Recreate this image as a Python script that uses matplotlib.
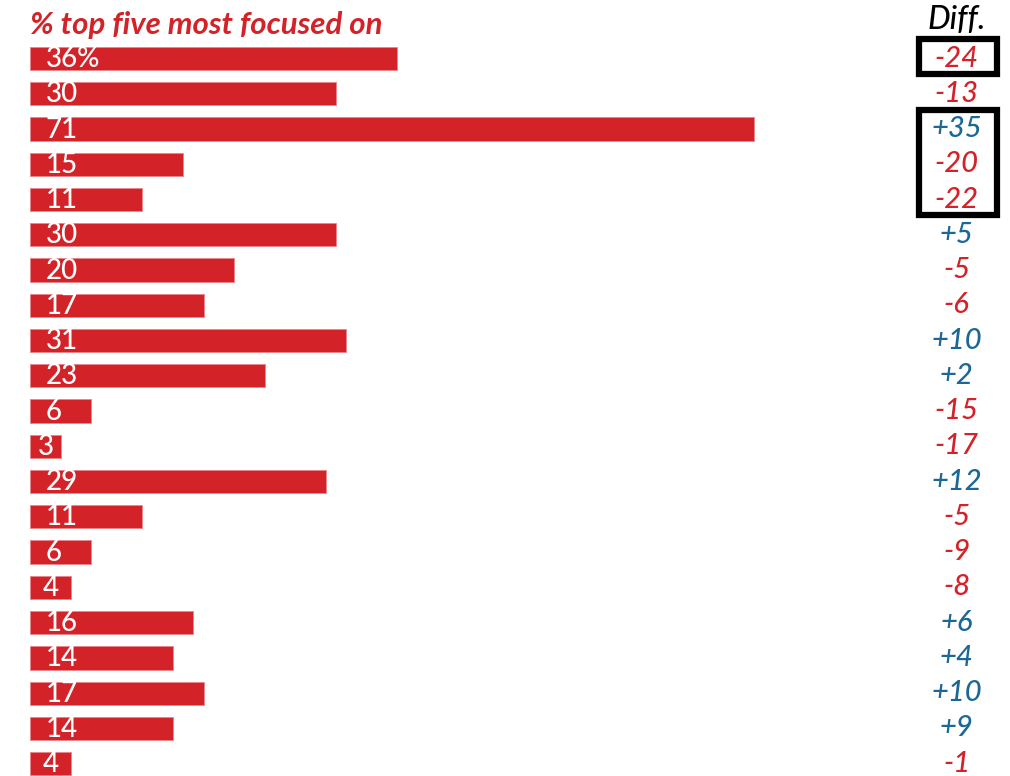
import matplotlib
matplotlib.use("Agg")
import matplotlib.pyplot as plt
from matplotlib.patches import Rectangle

values = [36, 30, 71, 15, 11, 30, 20, 17, 31, 23, 6, 3, 29, 11, 6, 4, 16, 14, 17, 14, 4]
diffs = [-24, -13, 35, -20, -22, 5, -5, -6, 10, 2, -15, -17, 12, -5, -9, -8, 6, 4, 10, 9, -1]
boxed_rows = [(0, 0), (2, 4)]
title = "% top five most focused on"
diff_title = "Diff."

RED = "#d42229"
BLUE = "#1b6896"
FONT = ["Lato", "DejaVu Sans"]

fig = plt.figure(figsize=(10.1, 7.76), dpi=100)
ax = fig.add_axes([0, 0, 1, 1])
ax.set_xlim(-2.97, 96.14)
ax.set_ylim(20.35, -1.66)
ax.axis("off")

rows = list(range(len(values)))
ax.barh(rows, values, height=0.66, color=RED, edgecolor="#e8868a", linewidth=0.6)

for i, v in enumerate(values):
    label = f"{v}%" if i == 0 else str(v)
    if v <= 4:
        ax.text(v / 2, i + 0.015, label, ha="center", va="center",
                color="white", fontsize=20, family=FONT, fontweight="medium")
    else:
        ax.text(1.5, i + 0.015, label, ha="left", va="center",
                color="white", fontsize=20, family=FONT, fontweight="medium")

x_diff = 90.9
for i, d in enumerate(diffs):
    ax.text(x_diff, i + 0.0, f"{d:+d}", ha="center", va="center",
            color=BLUE if d > 0 else RED, fontsize=21, family=FONT,
            style="italic", fontweight="medium")

ax.text(0, -0.95, title, ha="left", va="center", color=RED, fontsize=22.5,
        family=FONT, style="italic", fontweight="bold")
ax.text(x_diff, -1.08, diff_title, ha="center", va="center", color="black",
        fontsize=23, family=FONT, style="italic", fontweight="medium")

for start, end in boxed_rows:
    ax.add_patch(Rectangle((87.2, start - 0.55), 7.7, end - start + 1.0,
                           fill=False, edgecolor="black", linewidth=4.5,
                           clip_on=False))

fig.savefig("out.png", dpi=100)
